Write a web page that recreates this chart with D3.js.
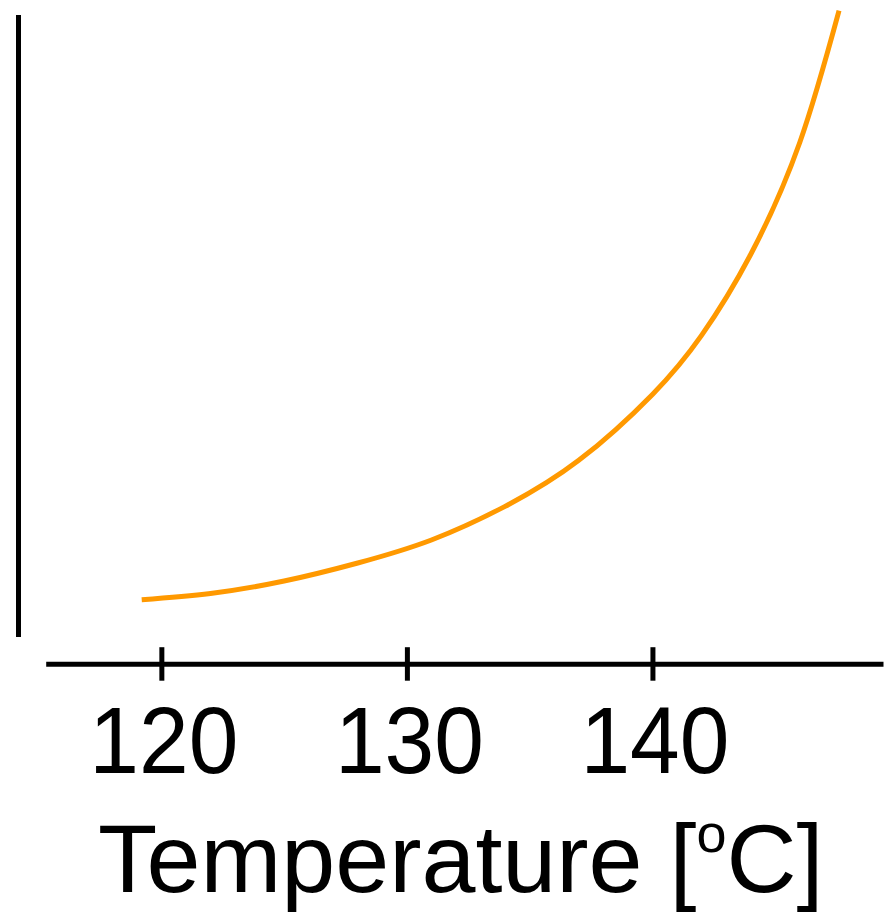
<!DOCTYPE html>
<html>
<head>
<meta charset="utf-8">
<script src="https://cdn.jsdelivr.net/npm/d3@7"></script>
<style>
    html, body { margin: 0; padding: 0; background: #fff; }
    svg { display: block; }
    text { font-family: "Liberation Sans", Arial, Helvetica, sans-serif; fill: #000; }
</style>
</head>
<body>
<svg id="chart" width="886" height="912"></svg>
<script>
// temperature [°C]
const temps = [119.2, 122, 125, 128, 131, 134, 137, 140, 142, 144, 146, 147.6];
// relative value (no scale on the y axis, arbitrary units)
const values = [6.0, 7.0, 9.0, 11.9, 15.6, 21.0, 28.4, 39.0, 48.5, 61.5, 79.5, 100.7];
const xTicks = [120, 130, 140];
const xDomain = [115.29, 149.39];
const yDomain = [0, 100];
const xLabel = "Temperature [";

const svg = d3.select("#chart");

const x = d3.scaleLinear().domain(xDomain).range([45.7, 883]);
const y = d3.scaleLinear().domain(yDomain).range([637, 15]);

const data = temps.map((t, i) => ({ t: t, v: values[i] }));

// y axis: plain line, no ticks
svg.
append("line").
attr("x1", 18.5).
attr("x2", 18.5).
attr("y1", y(yDomain[0])).
attr("y2", y(yDomain[1])).
attr("stroke", "#000").
attr("stroke-width", 5);

// x axis
const xAxis = svg.
append("g").
attr("class", "axis axis--x").
attr("transform", "translate(0,663.7)").
call(d3.axisBottom(x).tickValues(xTicks).tickSizeOuter(0).tickFormat(d3.format("d")));

xAxis.select(".domain").
attr("stroke", "#000").
attr("stroke-width", 5);

xAxis.selectAll(".tick line").
attr("y1", -16.5).
attr("y2", 17).
attr("stroke", "#000").
attr("stroke-width", 5);

xAxis.selectAll(".tick text").
attr("y", 109).
attr("dy", 0).
attr("transform", "translate(2,0) scale(0.94,1)").
style("font-size", "95px").
style("font-family", "\"Liberation Sans\", Arial, Helvetica, sans-serif").
attr("fill", "#000");

// curve
const line = d3.line().
x(d => x(d.t)).
y(d => y(d.v)).
curve(d3.curveNatural);

svg.
append("path").
datum(data).
attr("fill", "none").
attr("stroke", "#ff9900").
attr("stroke-width", 5).
attr("d", line);

// axis title
const title = svg.
append("text").
attr("x", 98).
attr("y", 892).
style("font-size", "97px");

title.append("tspan").text(xLabel);
title.append("tspan").
attr("dy", -40).
style("font-size", "54px").
text("o");
title.append("tspan").
attr("dy", 40).
text("C]");
</script>
</body>
</html>
